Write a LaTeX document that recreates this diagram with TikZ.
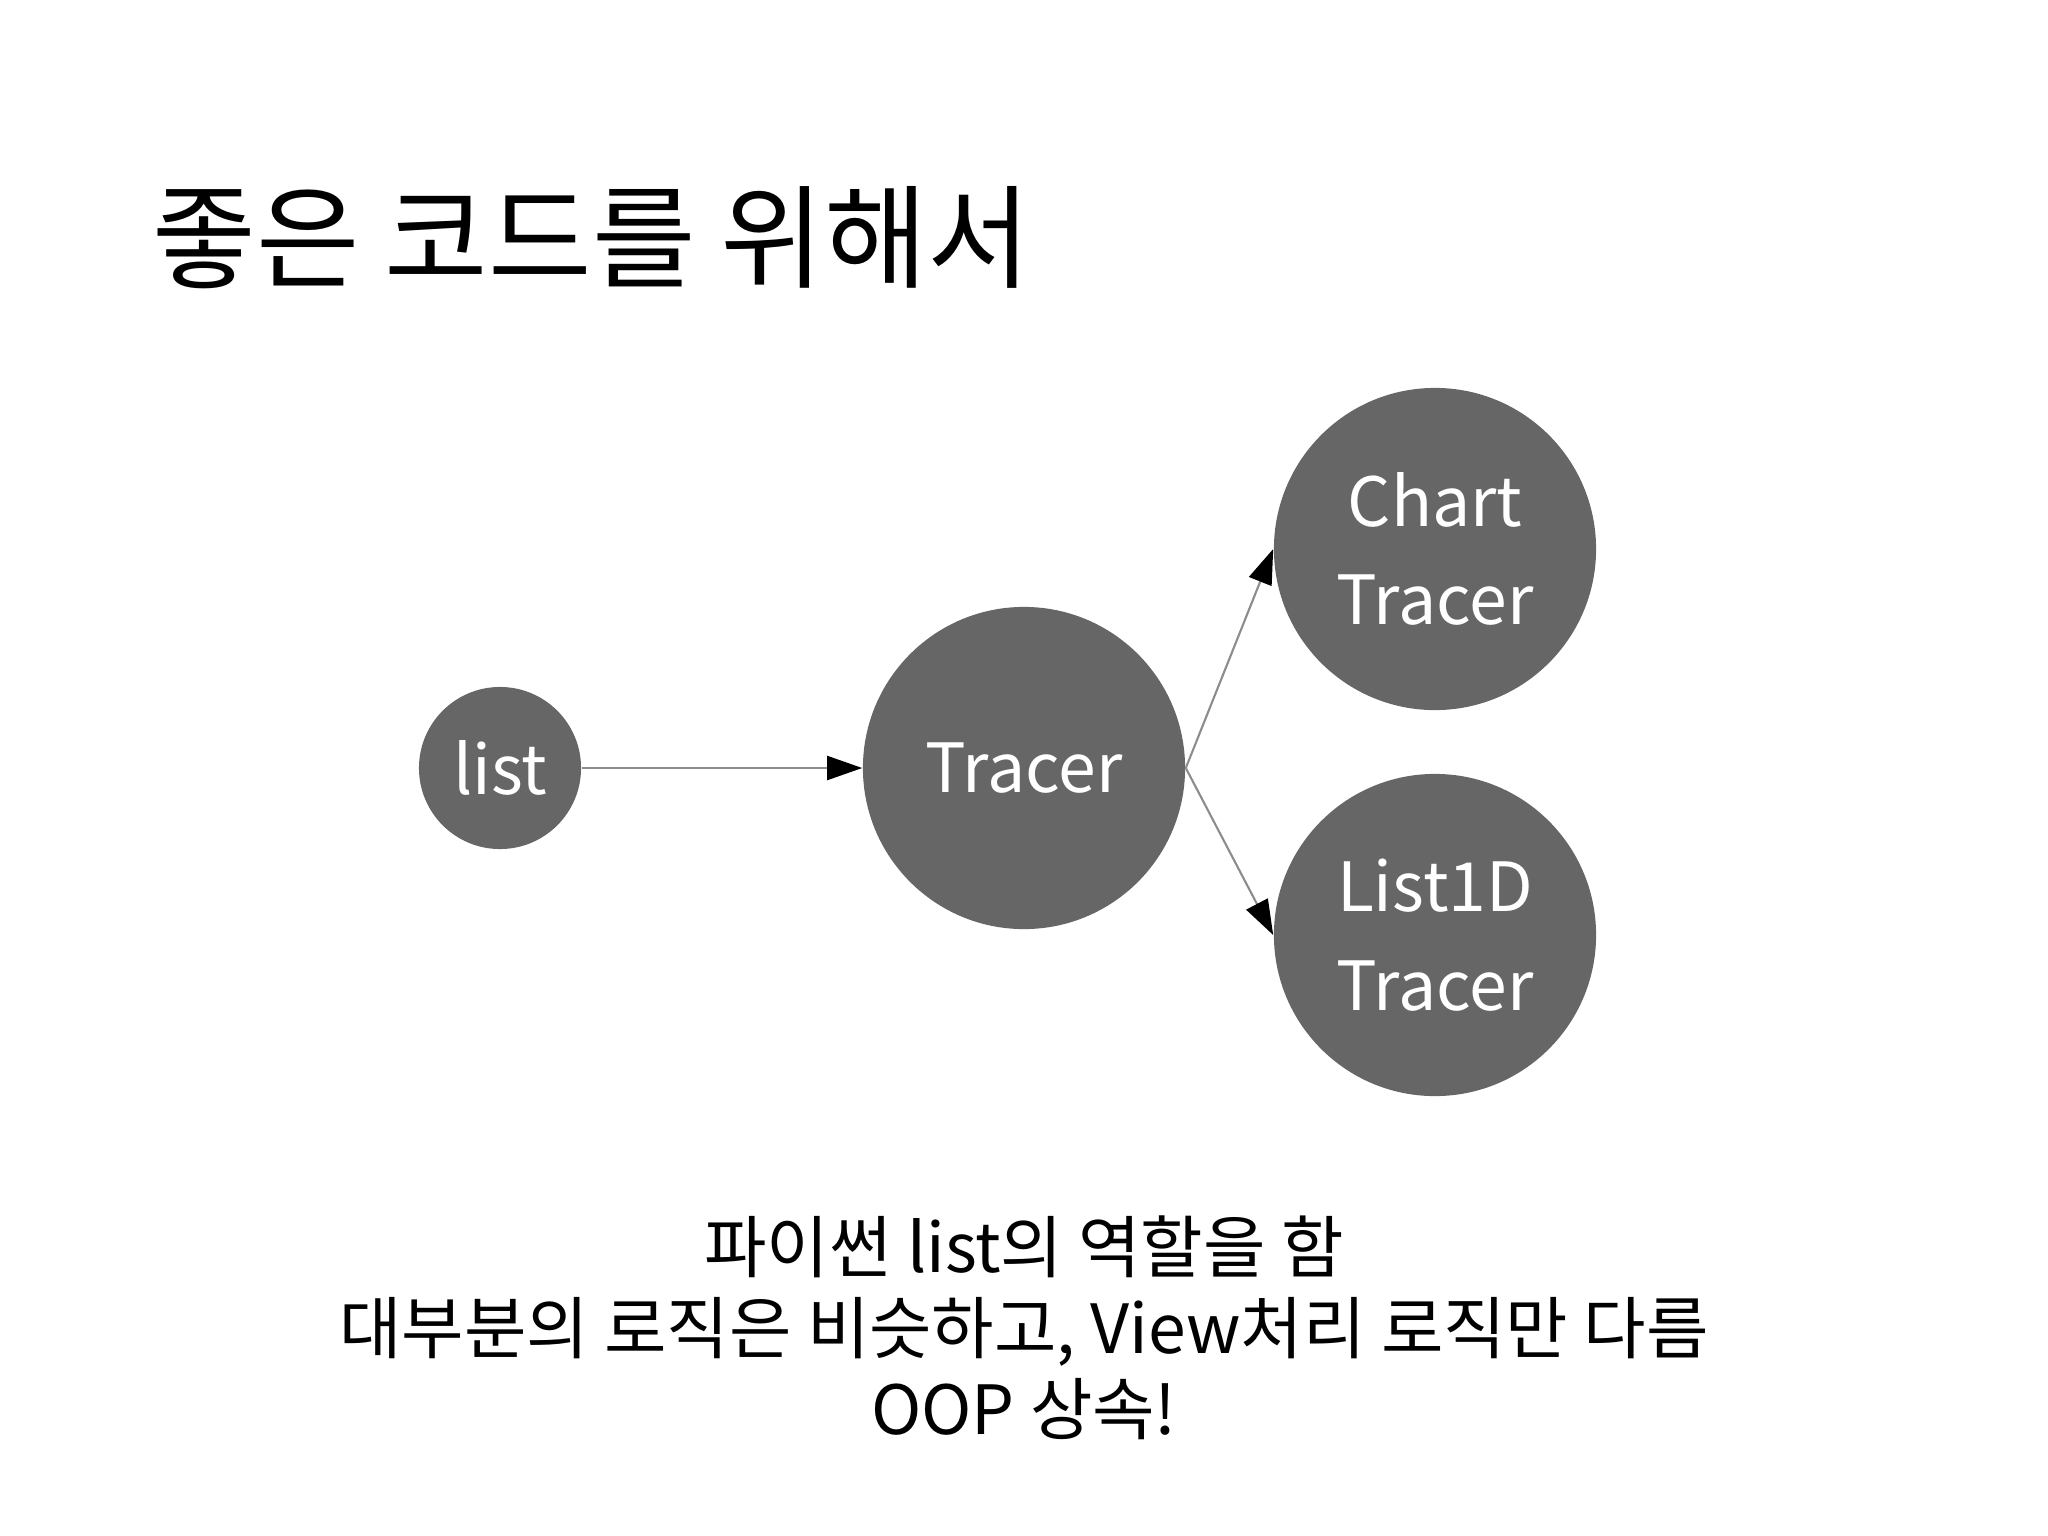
\documentclass[tikz,border=0pt]{standalone}
\usepackage{fontspec}
\setmainfont{Noto Sans CJK KR}
\usetikzlibrary{arrows.meta}
\definecolor{nodegray}{HTML}{666666}
\definecolor{linegray}{HTML}{8C8C8C}
\tikzset{
  tracer/.style={shape=circle, fill=nodegray, text=white, inner sep=0pt, align=center, font=\fontsize{19.3}{28}\selectfont},
  link/.style={-{Triangle[length=3.5mm, width=2.4mm, color=black]}, draw=linegray, line width=0.6pt},
  note/.style={anchor=base, inner sep=0pt, font=\fontsize{19.3}{23}\selectfont}
}
\begin{document}
\begin{tikzpicture}[x=0.01cm, y=-0.01cm]
\useasboundingbox (0,0) rectangle (2048,1536);
\node[anchor=base west, inner sep=0pt, font=\fontsize{32}{40}\selectfont] (title) at (152,279) {좋은 코드를 위해서};
\node[tracer, minimum size=1.62cm] (list) at (500,768) {list};
\node[tracer, minimum size=3.22cm] (tr) at (1024,768) {Tracer};
\node[tracer, minimum size=3.22cm] (chart) at (1435,549) {Chart\\Tracer};
\node[tracer, minimum size=3.22cm] (list1d) at (1435,935) {List1D\\Tracer};
\draw [link] (list) -- (tr);
\draw [link] (tr.east) -- (chart.west);
\draw [link] (tr.east) -- (list1d.west);
\node[note] (note1) at (1024,1272) {파이썬 list의 역할을 함};
\node[note] (note2) at (1024,1353) {대부분의 로직은 비슷하고, View처리 로직만 다름};
\node[note] (note3) at (1024,1434) {OOP 상속!};
\end{tikzpicture}
\end{document}
